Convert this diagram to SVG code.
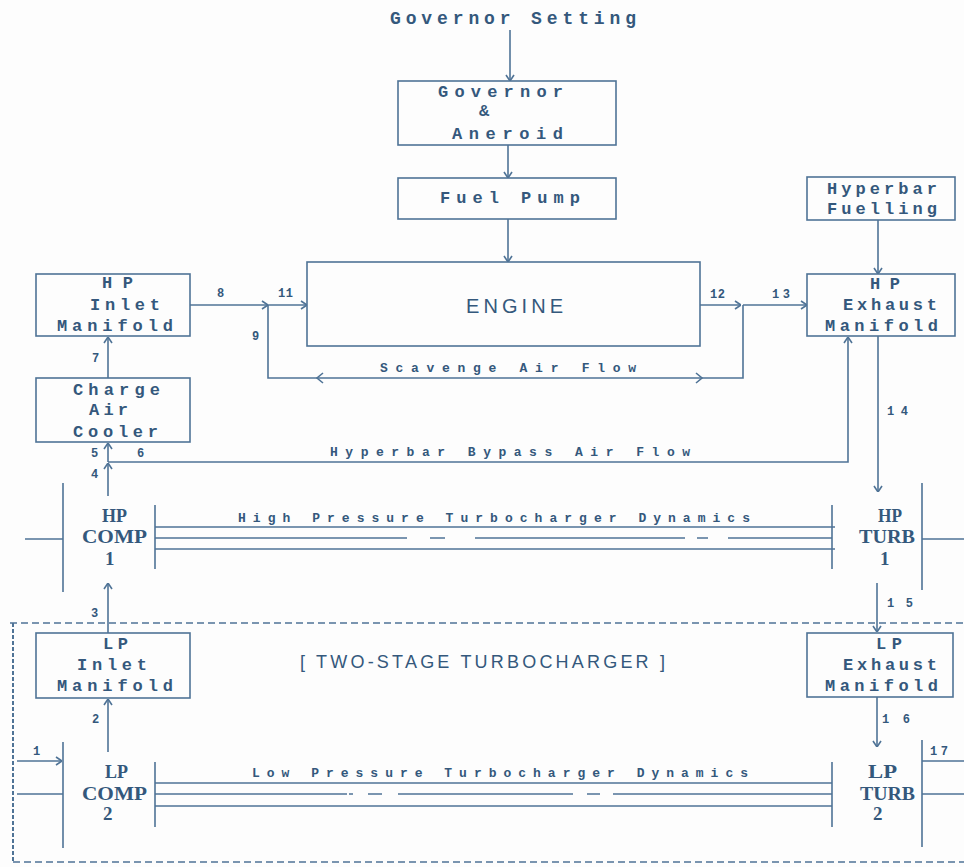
<svg xmlns="http://www.w3.org/2000/svg" width="964" height="867" viewBox="0 0 964 867">
<defs>
<style>
.bg{fill:#fdfdfd}
.box{fill:none;stroke:#4f7396;stroke-width:1.6}
.ln{fill:none;stroke:#4f7396;stroke-width:1.6}
.ar{marker-end:url(#arr)}
.dash{fill:none;stroke:#4f7396;stroke-width:1.6;stroke-dasharray:7 4}
.dashv{fill:none;stroke:#4f7396;stroke-width:2;stroke-dasharray:4 2}
.t{font-family:"Liberation Mono","DejaVu Sans Mono",monospace;font-size:17px;fill:#34587c;font-weight:bold}
.s{font-family:"Liberation Mono","DejaVu Sans Mono",monospace;font-size:13px;fill:#34587c;font-weight:bold}
.n{font-family:"Liberation Mono","DejaVu Sans Mono",monospace;font-size:12px;fill:#34587c;font-weight:bold}
.r{font-family:"Liberation Serif","Times New Roman",serif;font-size:19px;fill:#34587c;font-weight:bold}
.sans{font-family:"Liberation Sans",Arial,sans-serif;fill:#34587c}
</style>
<marker id="arr" viewBox="0 0 10 10" refX="10" refY="5" markerWidth="10" markerHeight="10" markerUnits="userSpaceOnUse" orient="auto">
<path d="M4,1 L10,5 L4,9" fill="none" stroke="#4f7396" stroke-width="1.6"/>
</marker>
</defs>
<rect class="bg" x="0" y="0" width="964" height="867"/>

<g id="governor-setting">
<text class="t" x="390" y="24" textLength="246" lengthAdjust="spacing" style="font-size:18px">Governor Setting</text>
</g>

<g id="governor">
<rect class="box" x="398" y="81" width="218" height="64"/>
<text class="t" x="438" y="97" textLength="125" lengthAdjust="spacing">Governor</text>
<text class="t" x="479" y="116">&amp;</text>
<text class="t" x="452" y="139" textLength="111" lengthAdjust="spacing">Aneroid</text>
</g>

<g id="fuel-pump">
<rect class="box" x="398" y="178" width="218" height="41"/>
<text class="t" x="440" y="203" textLength="140" lengthAdjust="spacing">Fuel Pump</text>
</g>

<g id="engine">
<rect class="box" x="307" y="262" width="393" height="84"/>
<text class="sans" x="466" y="313" font-size="20" textLength="97" lengthAdjust="spacing">ENGINE</text>
</g>

<g id="hp-inlet-manifold">
<rect class="box" x="36" y="274" width="154" height="62"/>
<text class="t" x="102" y="288" textLength="31" lengthAdjust="spacing">HP</text>
<text class="t" x="90" y="310" textLength="70" lengthAdjust="spacing">Inlet</text>
<text class="t" x="57" y="331" textLength="116" lengthAdjust="spacing">Manifold</text>
</g>

<g id="charge-air-cooler">
<rect class="box" x="36" y="378" width="154" height="64"/>
<text class="t" x="73" y="395" textLength="87" lengthAdjust="spacing">Charge</text>
<text class="t" x="89" y="415" textLength="39" lengthAdjust="spacing">Air</text>
<text class="t" x="73" y="437" textLength="85" lengthAdjust="spacing">Cooler</text>
</g>

<g id="hyperbar-fuelling">
<rect class="box" x="807" y="177" width="148" height="43"/>
<text class="t" x="827" y="194" textLength="110" lengthAdjust="spacing">Hyperbar</text>
<text class="t" x="827" y="214" textLength="110" lengthAdjust="spacing">Fuelling</text>
</g>

<g id="hp-exhaust-manifold">
<rect class="box" x="807" y="274" width="148" height="62"/>
<text class="t" x="870" y="289" textLength="30" lengthAdjust="spacing">HP</text>
<text class="t" x="843" y="310" textLength="94" lengthAdjust="spacing">Exhaust</text>
<text class="t" x="825" y="331" textLength="113" lengthAdjust="spacing">Manifold</text>
</g>

<g id="hp-comp">
<path class="ln" d="M63,483 V592 M155,505 V569"/>
<text class="r" x="102" y="522" textLength="25" lengthAdjust="spacingAndGlyphs">HP</text>
<text class="r" x="82" y="543" textLength="65" lengthAdjust="spacingAndGlyphs">COMP</text>
<text class="r" x="105" y="565">1</text>
</g>

<g id="hp-turb">
<path class="ln" d="M832,505 V569 M922,483 V590"/>
<text class="r" x="878" y="522" textLength="24" lengthAdjust="spacingAndGlyphs">HP</text>
<text class="r" x="859" y="543" textLength="56" lengthAdjust="spacingAndGlyphs">TURB</text>
<text class="r" x="880" y="565">1</text>
</g>

<g id="lp-inlet-manifold">
<rect class="box" x="36" y="633" width="154" height="65"/>
<text class="t" x="103" y="649" textLength="25" lengthAdjust="spacing">LP</text>
<text class="t" x="77" y="670" textLength="70" lengthAdjust="spacing">Inlet</text>
<text class="t" x="57" y="691" textLength="116" lengthAdjust="spacing">Manifold</text>
</g>

<g id="lp-exhaust-manifold">
<rect class="box" x="807" y="633" width="146" height="64"/>
<text class="t" x="876" y="649" textLength="26" lengthAdjust="spacing">LP</text>
<text class="t" x="843" y="670" textLength="94" lengthAdjust="spacing">Exhaust</text>
<text class="t" x="825" y="691" textLength="113" lengthAdjust="spacing">Manifold</text>
</g>

<g id="lp-comp">
<path class="ln" d="M63,742 V848 M155,762 V827"/>
<text class="r" x="105" y="778" textLength="23" lengthAdjust="spacingAndGlyphs">LP</text>
<text class="r" x="82" y="800" textLength="65" lengthAdjust="spacingAndGlyphs">COMP</text>
<text class="r" x="103" y="820">2</text>
</g>

<g id="lp-turb">
<path class="ln" d="M832,762 V827 M922,740 V847"/>
<text class="r" x="868" y="778" textLength="29" lengthAdjust="spacingAndGlyphs">LP</text>
<text class="r" x="860" y="800" textLength="55" lengthAdjust="spacingAndGlyphs">TURB</text>
<text class="r" x="873" y="820">2</text>
</g>

<g id="two-stage-label">
<text class="sans" x="300" y="668" font-size="18" textLength="365" lengthAdjust="spacing">[ TWO-STAGE TURBOCHARGER ]</text>
</g>

<g id="boundary">
<path class="dash" d="M10,623 H964"/>
<path class="dashv" d="M13,623 V862"/>
<path class="dash" d="M13,862 H964"/>
</g>

<g id="shafts">
<path class="ln" d="M155,527 H835 M155,549 H835"/>
<path class="ln" d="M155,538 H407 M430,538 H445 M475,538 H685 M697,538 H708 M728,538 H832"/>
<path class="ln" d="M155,783 H832 M155,806 H832"/>
<path class="ln" d="M155,794 H347 M349,794 H353 M368,794 H382 M398,794 H573 M587,794 H600 M613,794 H832"/>
<text class="s" x="238" y="522" textLength="512" lengthAdjust="spacing">High Pressure Turbocharger Dynamics</text>
<text class="s" x="252" y="777" textLength="496" lengthAdjust="spacing">Low Pressure Turbocharger Dynamics</text>
</g>

<g id="connectors">
<path class="ln ar" d="M510,30 V81"/>
<path class="ln ar" d="M508,145 V178"/>
<path class="ln ar" d="M508,219 V262"/>
<path class="ln ar" d="M190,305 H268"/>
<path class="ln ar" d="M268,305 H307"/>
<path class="ln" d="M268,305 V378 H743 V305"/>
<path class="ln" d="M323,373 L317,378 L323,383 M696,373 L702,378 L696,383"/>
<path class="ln ar" d="M700,305 H741"/>
<path class="ln ar" d="M743,305 H807"/>
<path class="ln ar" d="M878,220 V274"/>
<path class="ln ar" d="M878,336 V492"/>
<path class="ln ar" d="M108,462 H848 V337"/>
<path class="ln ar" d="M108,378 V337"/>
<path class="ln ar" d="M108,462 V443"/>
<path class="ln ar" d="M108,496 V463"/>
<path class="ln ar" d="M108,633 V583"/>
<path class="ln ar" d="M108,752 V699"/>
<path class="ln ar" d="M17,761 H62"/>
<path class="ln" d="M17,794 H63 M25,539 H63"/>
<path class="ln ar" d="M877,583 V632"/>
<path class="ln ar" d="M877,697 V747"/>
<path class="ln" d="M922,761 H964 M922,794 H964 M922,539 H964"/>
<text class="s" x="380" y="372" textLength="256" lengthAdjust="spacing">Scavenge Air Flow</text>
<text class="s" x="330" y="456" textLength="360" lengthAdjust="spacing">Hyperbar Bypass Air Flow</text>
<text class="n" x="217" y="297">8</text>
<text class="n" x="278" y="297" textLength="15" lengthAdjust="spacing">11</text>
<text class="n" x="252" y="340">9</text>
<text class="n" x="92" y="362">7</text>
<text class="n" x="91" y="457">5</text>
<text class="n" x="137" y="457">6</text>
<text class="n" x="91" y="478">4</text>
<text class="n" x="91" y="617">3</text>
<text class="n" x="92" y="723">2</text>
<text class="n" x="33" y="755">1</text>
<text class="n" x="710" y="298" textLength="15" lengthAdjust="spacing">12</text>
<text class="n" x="772" y="298" textLength="18" lengthAdjust="spacing">13</text>
<text class="n" x="887" y="415" textLength="21" lengthAdjust="spacing">14</text>
<text class="n" x="887" y="607" textLength="26" lengthAdjust="spacing">15</text>
<text class="n" x="882" y="723" textLength="28" lengthAdjust="spacing">16</text>
<text class="n" x="930" y="755" textLength="18" lengthAdjust="spacing">17</text>
</g>
</svg>
